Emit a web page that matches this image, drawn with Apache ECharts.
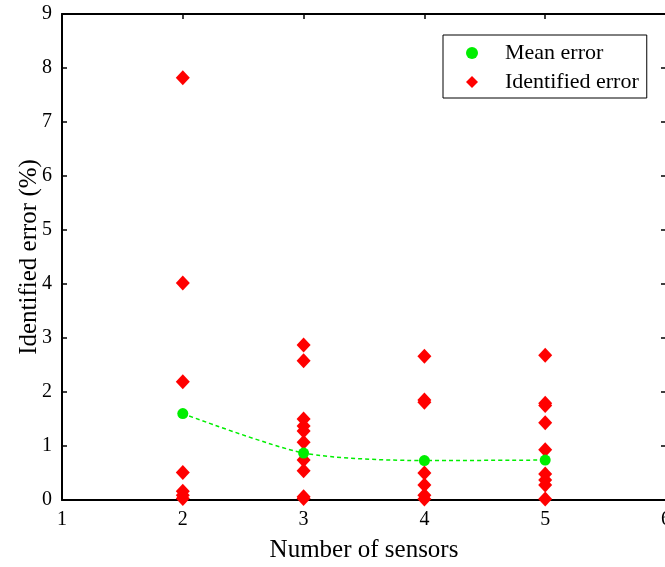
<!DOCTYPE html>
<html>
<head>
<meta charset="utf-8">
<script src="https://cdn.jsdelivr.net/npm/echarts@6/dist/echarts.min.js"></script>
<style>
  html, body { margin: 0; padding: 0; background: #fff; }
  #chart { width: 665px; height: 567px; }
</style>
</head>
<body>
<div id="chart"></div>
<script>
// Number of sensors and the identified errors (%) found for each layout
var sensorCounts = [2, 3, 4, 5];
var meanError = [1.60, 0.87, 0.73, 0.74];
var errorsTwo = [7.82, 4.02, 2.19, 0.51, 0.16, 0.09, 0.03];
var errorsThree = [2.87, 2.58, 1.50, 1.37, 1.28, 1.07, 0.74, 0.54, 0.06, 0.03];
var errorsFour = [2.66, 1.85, 1.81, 0.50, 0.28, 0.09, 0.02];
var errorsFive = [2.68, 1.79, 1.75, 1.43, 0.93, 0.48, 0.37, 0.28, 0.02];
var xTicks = [1, 2, 3, 4, 5, 6];
var yTicks = [0, 1, 2, 3, 4, 5, 6, 7, 8, 9];

var groups = [errorsTwo, errorsThree, errorsFour, errorsFive];
var identifiedPoints = [];
groups.forEach(function (vals, i) {
  vals.forEach(function (v) { identifiedPoints.push([sensorCounts[i], v]); });
});
var meanPoints = sensorCounts.map(function (n, i) { return [n, meanError[i]]; });

var FONT = '"Liberation Serif", "Times New Roman", serif';
var chart = echarts.init(document.getElementById('chart'));

var axisCommon = {
  axisLine: { show: true, onZero: false, lineStyle: { color: '#000', width: 2 } },
  axisTick: { show: true, inside: true, length: 5, lineStyle: { color: '#000', width: 1.5 } },
  splitLine: { show: false }
};

chart.setOption({
  animation: false,
  backgroundColor: '#fff',
  grid: { left: 62, top: 14, width: 604, height: 486, show: false, containLabel: false, outerBoundsMode: 'none' },
  legend: {
    left: 443, top: 35,
    orient: 'vertical',
    backgroundColor: '#fff',
    borderColor: '#000', borderWidth: 1,
    padding: [7, 8, 5, 23],
    itemWidth: 12, itemHeight: 12, itemGap: 7,
    textStyle: { fontFamily: FONT, fontSize: 22, color: '#000', padding: [0, 0, 0, 22] },
    data: [
      { name: 'Mean error', icon: 'circle', itemStyle: { color: '#00ee00' } },
      { name: 'Identified error', icon: 'diamond' }
    ]
  },
  xAxis: [
    Object.assign({}, axisCommon, {
      type: 'value', min: xTicks[0], max: xTicks[xTicks.length - 1], interval: 1,
      position: 'bottom',
      name: 'Number of sensors', nameLocation: 'middle', nameGap: 38,
      nameMoveOverlap: false,
      nameTextStyle: { fontFamily: FONT, fontSize: 25, color: '#000' },
      axisLabel: { fontFamily: FONT, fontSize: 20, color: '#000', margin: 10 }
    }),
    Object.assign({}, axisCommon, {
      type: 'value', min: xTicks[0], max: xTicks[xTicks.length - 1], interval: 1,
      position: 'top', axisLabel: { show: false }
    })
  ],
  yAxis: [
    Object.assign({}, axisCommon, {
      type: 'value', min: yTicks[0], max: yTicks[yTicks.length - 1], interval: 1,
      position: 'left',
      name: 'Identified error (%)', nameLocation: 'middle', nameGap: 20,
      nameMoveOverlap: false,
      nameTextStyle: { fontFamily: FONT, fontSize: 25, color: '#000' },
      axisLabel: { fontFamily: FONT, fontSize: 20, color: '#000', margin: 10 }
    }),
    Object.assign({}, axisCommon, {
      type: 'value', min: yTicks[0], max: yTicks[yTicks.length - 1], interval: 1,
      position: 'right', axisLabel: { show: false }
    })
  ],
  series: [
    {
      name: 'Identified error',
      type: 'scatter',
      symbol: 'diamond',
      symbolSize: [14, 15],
      itemStyle: { color: '#ff0000', opacity: 1 },
      data: identifiedPoints,
      z: 2
    },
    {
      name: 'Mean error',
      type: 'line',
      smooth: 0.25,
      symbol: 'circle',
      symbolSize: 11,
      showAllSymbol: true,
      itemStyle: { color: '#00ee00' },
      lineStyle: { color: '#00ee00', width: 1.5, type: [4, 3] },
      data: meanPoints,
      z: 3
    }
  ]
});
</script>
</body>
</html>
